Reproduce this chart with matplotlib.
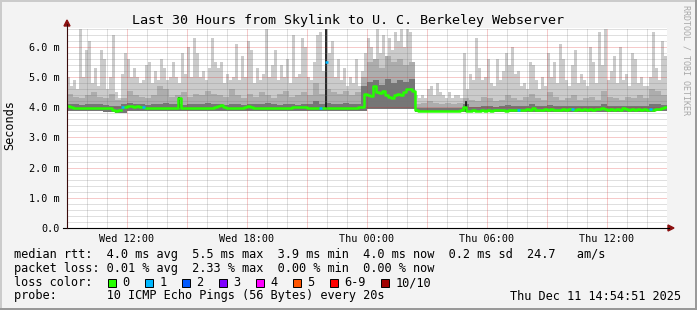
import numpy as np
import matplotlib
matplotlib.use('Agg')
import matplotlib.pyplot as plt
from matplotlib.patches import Rectangle, Polygon
from matplotlib.lines import Line2D

plt.rcParams['lines.scale_dashes'] = False

# --- data (ms), hours counted from Wed 09:00 ---
# highest ping per 9 minute step (light smoke)
top_ms = [
    5.0, 4.7, 4.9, 4.6, 6.6, 5.0, 5.9, 6.2, 4.8, 5.3,
    4.7, 5.9, 5.6, 4.6, 5.0, 6.4, 4.5, 4.3, 5.1, 5.8,
    5.6, 5.0, 5.3, 5.0, 4.8, 4.9, 5.4, 5.5, 4.8, 5.2,
    4.9, 5.6, 5.3, 4.9, 5.0, 5.5, 5.0, 4.8, 5.8, 5.1,
    6.0, 5.0, 6.3, 5.8, 5.0, 5.2, 4.9, 5.3, 6.3, 5.5,
    5.3, 5.5, 4.8, 5.1, 4.9, 5.0, 6.1, 4.9, 5.7, 5.0,
    6.2, 5.9, 4.8, 5.3, 4.9, 5.1, 6.6, 5.0, 5.4, 5.9,
    4.9, 5.4, 5.0, 5.6, 4.8, 6.4, 5.0, 5.1, 6.3, 6.0,
    5.0, 4.9, 5.5, 6.4, 6.5, 5.2, 6.6, 5.8, 6.2, 5.0,
    5.6, 4.9, 5.3, 4.7, 5.0, 4.8, 5.6, 4.7, 5.2, 5.8,
    6.3, 6.0, 5.4, 6.6, 5.8, 6.4, 5.6, 6.3, 5.9, 6.5,
    6.2, 6.6, 6.0, 6.6, 6.5, 5.5, 4.4, 4.3, 4.4, 4.3,
    4.6, 4.7, 4.4, 4.8, 4.5, 4.4, 4.3, 4.5, 4.3, 4.4,
    4.4, 4.3, 5.8, 4.6, 5.1, 4.9, 6.3, 5.3, 4.9, 5.0,
    5.6, 4.8, 4.7, 5.6, 4.9, 5.2, 5.8, 5.4, 6.0, 5.1,
    5.2, 4.7, 4.8, 4.6, 5.5, 5.4, 4.9, 4.6, 5.0, 4.7,
    5.8, 5.0, 5.5, 4.8, 6.1, 5.6, 4.9, 4.7, 5.4, 5.9,
    4.8, 5.1, 4.9, 4.7, 6.0, 5.5, 4.8, 6.5, 5.4, 6.6,
    4.9, 5.2, 5.7, 4.8, 6.0, 4.9, 5.1, 4.7, 5.8, 5.6,
    4.8, 5.0, 4.7, 4.7, 5.0, 6.5, 5.3, 4.9, 6.2, 5.7,
]
# median rtt per 9 minute step
median_ms = [
    4.03, 4.00, 3.99, 3.98, 3.98, 3.99, 3.98, 3.97, 3.98, 3.99,
    3.98, 3.98, 3.99, 3.98, 3.97, 3.90, 3.87, 3.92, 4.00, 4.02,
    4.06, 4.03, 4.02, 4.04, 4.01, 4.00, 3.99, 3.98, 3.97, 3.98,
    3.97, 3.98, 3.97, 3.98, 3.99, 3.98, 3.99, 4.32, 3.99, 3.98,
    3.97, 3.98, 3.98, 3.97, 3.98, 3.99, 3.98, 3.97, 3.98, 4.00,
    4.03, 4.08, 4.02, 3.98, 3.97, 3.98, 3.97, 3.98, 3.99, 4.01,
    4.05, 4.01, 3.99, 3.98, 3.97, 3.98, 3.99, 3.98, 3.97, 3.98,
    3.99, 3.98, 3.97, 3.98, 3.99, 4.00, 4.01, 4.02, 4.01, 4.00,
    3.99, 3.98, 3.99, 3.98, 3.99, 3.98, 5.50, 3.98, 3.97, 3.98,
    3.99, 3.98, 3.99, 3.98, 3.99, 3.98, 3.99, 4.00, 4.02, 4.45,
    4.42, 4.38, 4.70, 4.52, 4.48, 4.55, 4.42, 4.35, 4.30, 4.40,
    4.45, 4.42, 4.50, 4.60, 4.62, 4.55, 3.90, 3.89, 3.89, 3.89,
    3.89, 3.88, 3.89, 3.89, 3.88, 3.89, 3.89, 3.89, 3.88, 3.89,
    3.89, 3.90, 4.00, 3.89, 3.89, 3.90, 3.89, 3.89, 3.90, 3.89,
    3.90, 3.89, 3.90, 3.90, 3.91, 3.90, 3.89, 3.90, 3.91, 3.92,
    3.92, 3.91, 3.92, 3.93, 3.92, 3.98, 3.92, 3.91, 3.92, 3.93,
    3.92, 3.93, 3.92, 3.91, 3.92, 3.93, 3.92, 3.93, 3.94, 3.92,
    3.93, 3.92, 3.93, 3.92, 3.93, 3.92, 3.93, 3.94, 3.97, 3.93,
    3.92, 3.93, 3.92, 3.93, 3.92, 3.97, 3.93, 3.92, 3.93, 3.92,
    3.93, 3.92, 3.93, 3.92, 3.93, 3.92, 3.94, 3.95, 3.99, 4.00,
]
# upper smoke (18 minute steps)
upper_ms = [
    4.45, 4.35, 4.30, 4.40, 4.50, 4.35, 4.30, 4.45, 4.25, 4.30,
    4.55, 4.40, 4.35, 4.30, 4.40, 4.70, 4.60, 4.35, 4.40, 4.50,
    4.35, 4.45, 4.40, 4.55, 4.45, 4.40, 4.35, 4.60, 4.40, 4.30,
    4.45, 4.35, 4.50, 4.40, 4.30, 4.45, 4.55, 4.35, 4.40, 4.50,
    4.40, 4.80, 4.45, 4.60, 4.50, 4.45, 4.55, 4.40, 4.50, 5.00,
    5.50, 5.60, 5.30, 5.70, 5.50, 5.60, 5.40, 5.50, 4.10, 4.15,
    4.20, 4.15, 4.10, 4.15, 4.10, 4.15, 4.30, 4.25, 4.20, 4.35,
    4.30, 4.20, 4.25, 4.40, 4.30, 4.25, 4.35, 4.45, 4.30, 4.25,
    4.50, 4.35, 4.25, 4.30, 4.40, 4.25, 4.30, 4.35, 4.25, 4.55,
    4.35, 4.30, 4.25, 4.35, 4.30, 4.40, 4.30, 4.60, 4.55, 4.40,
]
# dense smoke around the median (18 minute steps)
core_ms = [
    4.12, 4.10, 4.08, 4.10, 4.12, 4.10, 4.08, 4.06, 4.05, 4.10,
    4.15, 4.12, 4.10, 4.08, 4.10, 4.12, 4.15, 4.10, 4.12, 4.08,
    4.10, 4.12, 4.10, 4.15, 4.12, 4.10, 4.08, 4.12, 4.10, 4.08,
    4.10, 4.12, 4.10, 4.15, 4.10, 4.08, 4.12, 4.10, 4.08, 4.12,
    4.10, 4.20, 4.12, 4.15, 4.10, 4.12, 4.15, 4.10, 4.12, 4.70,
    4.85, 4.90, 4.75, 4.95, 4.80, 4.90, 4.85, 4.95, 3.97, 3.97,
    3.98, 3.97, 3.97, 3.98, 3.97, 3.98, 4.10, 4.00, 4.02, 4.05,
    4.03, 4.02, 4.05, 4.08, 4.04, 4.03, 4.05, 4.10, 4.04, 4.03,
    4.08, 4.05, 4.03, 4.04, 4.06, 4.03, 4.04, 4.05, 4.03, 4.10,
    4.05, 4.04, 4.03, 4.05, 4.04, 4.06, 4.05, 4.12, 4.10, 4.08,
]
# lowest ping (36 minute steps)
lo_ms = [
    3.88, 3.88, 3.87, 3.85, 3.82, 3.87, 3.88, 3.88, 3.87, 3.88,
    3.88, 3.87, 3.88, 3.88, 3.87, 3.88, 3.88, 3.87, 3.88, 3.88,
    3.87, 3.88, 3.88, 3.87, 3.88, 3.93, 3.94, 3.93, 3.94, 3.84,
    3.84, 3.83, 3.84, 3.84, 3.83, 3.84, 3.84, 3.85, 3.84, 3.85,
    3.85, 3.86, 3.85, 3.86, 3.85, 3.86, 3.86, 3.85, 3.86, 3.87,
]
# short bursts where all pings were slow
dense_hours = [5.6, 12.97, 19.95]
dense_lo = [3.97, 3.97, 3.86]
dense_hi = [4.33, 6.6, 4.2]
# steps with 1 of 10 pings lost
loss1_hours = [2.8, 3.8, 12.7, 13.0, 22.6, 25.3, 29.15]

y_tick_vals = [0, 1, 2, 3, 4, 5, 6]
y_tick_labels = ["0.0", "1.0 m", "2.0 m", "3.0 m", "4.0 m", "5.0 m", "6.0 m"]
x_tick_hours = [3, 9, 15, 21, 27]
x_tick_labels = ["Wed 12:00", "Wed 18:00", "Thu 00:00", "Thu 06:00", "Thu 12:00"]

loss_labels = ["0", "1", "2", "3", "4", "5", "6-9", "10/10"]
loss_colors = ["#26ff00", "#00b8ff", "#0059ff", "#7e00ff", "#ff00ff",
               "#ff5500", "#ff0000", "#a00000"]

title = "Last 30 Hours from Skylink to U. C. Berkeley Webserver"
line_rtt = "median rtt:  4.0 ms avg  5.5 ms max  3.9 ms min  4.0 ms now  0.2 ms sd  24.7   am/s"
line_loss = "packet loss: 0.01 % avg  2.33 % max  0.00 % min  0.00 % now"
line_probe = "probe:       10 ICMP Echo Pings (56 Bytes) every 20s"
stamp = "Thu Dec 11 14:54:51 2025"

# --- layout helpers (pixels of the 697x310 image) ---
W, H = 697, 310
MONO = 'DejaVu Sans Mono'
GRID_MINOR = (0.45, 0.45, 0.45, 0.45)
GRID_MAJOR = (0.85, 0.1, 0.1, 0.45)
DOTS = (0, (0.72, 0.72))   # 1 px on, 1 px off


def fx(x):
    return x / W


def fy(y):
    return 1 - y / H


def stepped(v):
    v = np.asarray(v, dtype=float)
    return np.append(v, v[-1])


fig = plt.figure(figsize=(W / 100, H / 100), dpi=100)
fig.patch.set_facecolor('#f3f3f3')

ax = fig.add_axes([fx(67), fy(228), 600 / W, 200 / H])
ax.set_facecolor('white')
ymax = 200 / 30.17
ax.set_xlim(0, 30)
ax.set_ylim(0, ymax)

# smoke layers
e_fine = np.arange(len(top_ms) + 1) * 0.15
e_mid = np.arange(len(upper_ms) + 1) * 0.3
e_lo = np.arange(len(lo_ms) + 1) * 0.6
ax.fill_between(e_fine, 0, stepped(top_ms), step='post', color='#cbcbcb', lw=0, zorder=1)
ax.fill_between(e_mid, 0, stepped(upper_ms), step='post', color='#adadad', lw=0, zorder=1.1)
ax.fill_between(e_mid, 0, stepped(core_ms), step='post', color='#767676', lw=0, zorder=1.2)
ax.vlines(dense_hours, dense_lo, dense_hi, color='#1a1a1a', lw=1.3, zorder=1.3)
# below the fastest ping there is no smoke
ax.fill_between(e_lo, 0, stepped(lo_ms), step='post', color='white', lw=0, zorder=1.4)

# grid
for h in range(0, 31):
    ax.axvline(h, color=GRID_MAJOR if h % 3 == 0 else GRID_MINOR, lw=0.72,
               ls=DOTS, zorder=3)
for k in range(1, 34):
    ax.axhline(k * 0.2, color=GRID_MAJOR if k % 5 == 0 else GRID_MINOR, lw=0.72,
               ls=DOTS, zorder=3)

# median line, coloured by loss
loss_class = np.zeros(len(median_ms), dtype=int)
for h in loss1_hours:
    loss_class[int(h / 0.15)] = 1
med = np.asarray(median_ms)
green = np.where(loss_class == 0, med, np.nan)
ax.plot(e_fine, stepped(green), drawstyle='steps-post', color=loss_colors[0],
        lw=1.8, zorder=4)
idx = np.where(loss_class == 1)[0]
ax.hlines(med[idx], e_fine[idx], e_fine[idx + 1], color=loss_colors[1], lw=1.8, zorder=4.1)

# ticks
for s in ax.spines.values():
    s.set_visible(False)
ax.set_yticks(y_tick_vals, y_tick_labels)
ax.set_xticks(x_tick_hours, x_tick_labels)
ax.tick_params(length=0, labelsize=7.3)
ax.tick_params(axis='y', pad=5.5)
ax.tick_params(axis='x', pad=4)
for lab in ax.get_xticklabels() + ax.get_yticklabels():
    lab.set_fontfamily(MONO)

# axes lines and arrows
fig.add_artist(Line2D([fx(63), fx(669)], [fy(228), fy(228)], color='black', lw=0.8))
fig.add_artist(Line2D([fx(67), fx(67)], [fy(228), fy(24)], color='#3a0a0a', lw=0.8))
fig.add_artist(Polygon([[fx(64), fy(26)], [fx(70), fy(26)], [fx(67), fy(20)]],
                       closed=True, color='#8b1010', transform=fig.transFigure))
fig.add_artist(Polygon([[fx(668), fy(225)], [fx(668), fy(231)], [fx(674), fy(228)]],
                       closed=True, color='#8b1010', transform=fig.transFigure))

# frame shading
fig.add_artist(Rectangle((0, fy(2)), 1, 2 / H, color='#cbcbcb', transform=fig.transFigure, lw=0))
fig.add_artist(Rectangle((0, 0), 2 / W, 1, color='#cbcbcb', transform=fig.transFigure, lw=0))
fig.add_artist(Rectangle((0, 0), 1, 2 / H, color='#999999', transform=fig.transFigure, lw=0))
fig.add_artist(Rectangle((fx(695), 0), 2 / W, 1, color='#999999', transform=fig.transFigure, lw=0))

# texts
fig.text(0.5, fy(24), title, ha='center', va='baseline', fontsize=9.6, family=MONO)
fig.text(fx(10), fy(125), "Seconds", rotation=90, ha='center', va='center',
         fontsize=8.6, family=MONO)
fig.text(fx(686), fy(60), "RRDTOOL / TOBI OETIKER", rotation=270, ha='center',
         va='center', fontsize=6, family=MONO, color='#a8a8a8')

fs = 8.56
cw = 7.16
x0 = 14.5
fig.text(fx(x0), fy(258.3), line_rtt, ha='left', va='baseline', fontsize=fs, family=MONO)
fig.text(fx(x0), fy(272.3), line_loss, ha='left', va='baseline', fontsize=fs, family=MONO)
fig.text(fx(x0), fy(286), "loss color:", ha='left', va='baseline', fontsize=fs, family=MONO)
fig.text(fx(x0), fy(299.5), line_probe, ha='left', va='baseline', fontsize=fs, family=MONO)
fig.text(fx(681), fy(299.5), stamp, ha='right', va='baseline', fontsize=fs, family=MONO)

bx = 108.3
for lab, col in zip(loss_labels, loss_colors):
    fig.add_artist(Rectangle((fx(bx), fy(286.5)), 8 / W, 8 / H, facecolor=col,
                             edgecolor='black', lw=0.7, transform=fig.transFigure))
    fig.text(fx(bx + 14), fy(286), lab, ha='left', va='baseline', fontsize=fs, family=MONO)
    bx += 15 + cw * len(lab) + 14.8

fig.savefig('out.png', dpi=100, facecolor=fig.get_facecolor())
